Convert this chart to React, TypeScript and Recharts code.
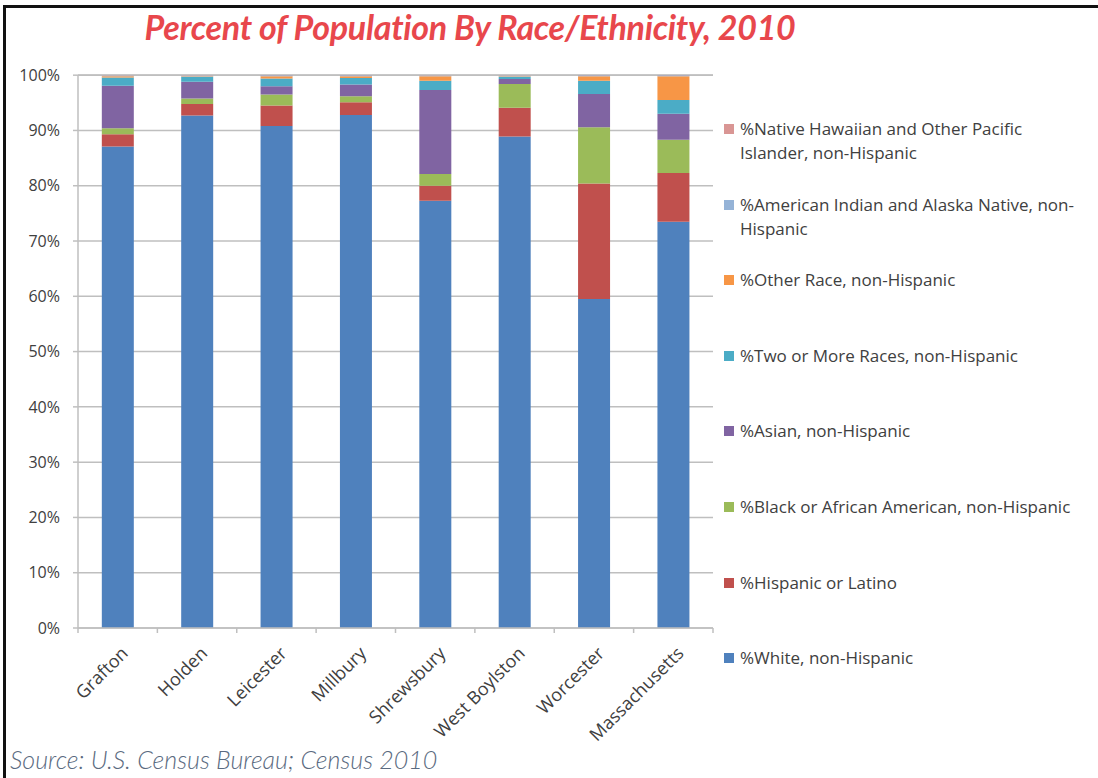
import React from "react";
import { BarChart, Bar, XAxis, YAxis, CartesianGrid } from "recharts";

const towns = [
  "Grafton",
  "Holden",
  "Leicester",
  "Millbury",
  "Shrewsbury",
  "West Boylston",
  "Worcester",
  "Massachusetts",
];

// percent of population, bottom of stack first
const white = [87.1, 92.7, 90.8, 92.8, 77.3, 88.9, 59.5, 73.5];
const hispanic = [2.2, 2.1, 3.7, 2.3, 2.7, 5.2, 20.9, 8.8];
const black = [1.1, 1.0, 2.0, 1.1, 2.1, 4.3, 10.2, 6.0];
const asian = [7.7, 3.0, 1.5, 2.1, 15.2, 0.9, 6.0, 4.7];
const twoOrMore = [1.5, 0.9, 1.4, 1.2, 1.7, 0.4, 2.4, 2.5];
const otherRace = [0.2, 0.1, 0.4, 0.3, 0.8, 0.1, 0.8, 4.3];
const amIndian = [0.1, 0.1, 0.2, 0.2, 0.1, 0.1, 0.2, 0.2];
const hawaiian = [0.05, 0.02, 0.03, 0.02, 0.03, 0.05, 0.03, 0.03];

const yTicks = [0, 10, 20, 30, 40, 50, 60, 70, 80, 90, 100];

const SERIES = [
  { key: "white", name: "%White, non-Hispanic", color: "#4f81bd", values: white },
  { key: "hispanic", name: "%Hispanic or Latino", color: "#c0504d", values: hispanic },
  { key: "black", name: "%Black or African American, non-Hispanic", color: "#9bbb59", values: black },
  { key: "asian", name: "%Asian, non-Hispanic", color: "#8064a2", values: asian },
  { key: "two", name: "%Two or More Races, non-Hispanic", color: "#4bacc6", values: twoOrMore },
  { key: "other", name: "%Other Race, non-Hispanic", color: "#f79646", values: otherRace },
  { key: "amind", name: "%American Indian and Alaska Native, non-Hispanic", color: "#95b3d7", values: amIndian },
  { key: "nhpi", name: "%Native Hawaiian and Other Pacific Islander, non-Hispanic", color: "#d99694", values: hawaiian },
];

const data = towns.map((town, i) => {
  const row: Record<string, any> = { town };
  SERIES.forEach((s) => (row[s.key] = s.values[i]));
  return row;
});

const PLOT_LEFT = 78;
const PLOT_RIGHT = 713;
const BAND = (PLOT_RIGHT - PLOT_LEFT) / towns.length;
const AXIS_GRAY = "#bfbfbf";

const TownTick = (props: any) => {
  const { x, y, payload, index } = props;
  const y0 = y - 8;
  return (
    <g>
      <line x1={x - BAND / 2} y1={y0} x2={x - BAND / 2} y2={y0 + 5} stroke={AXIS_GRAY} strokeWidth={1.5} />
      {index === towns.length - 1 && (
        <line x1={x + BAND / 2} y1={y0} x2={x + BAND / 2} y2={y0 + 5} stroke={AXIS_GRAY} strokeWidth={1.5} />
      )}
      <text
        x={x + 7}
        y={y + 14}
        transform={`rotate(-45, ${x + 7}, ${y + 14})`}
        textAnchor="end"
        dy="0.35em"
        fill="#404040"
        fontSize={18}
        fontFamily="'Open Sans', sans-serif"
      >
        {payload.value}
      </text>
    </g>
  );
};

export default function App() {
  const legendItems = [...SERIES].reverse();
  return (
    <div
      style={{
        position: "absolute",
        left: 0,
        top: 0,
        width: 1098,
        height: 778,
        background: "#fff",
        overflow: "hidden",
        fontFamily: "'Open Sans', sans-serif",
      }}
    >
      <div style={{ position: "absolute", left: 3, top: 5, width: 1095, height: 773, borderLeft: "3px solid #111", borderTop: "3px solid #111" }} />
      <div
        style={{
          position: "absolute",
          left: 0,
          width: 940,
          top: 6,
          textAlign: "center",
          color: "#e8474c",
          fontFamily: "Lato, sans-serif",
          fontStyle: "italic",
          fontWeight: 700,
          fontSize: 34,
          letterSpacing: -0.3,
        }}
      >
        Percent of Population By Race/Ethnicity, 2010
      </div>
      <BarChart
        width={1098}
        height={778}
        data={data}
        margin={{ top: 75, right: 1098 - PLOT_RIGHT, bottom: 50, left: 8 }}
        barCategoryGap="30%"
        style={{ position: "absolute", left: 0, top: 0 }}
      >
        <CartesianGrid vertical={false} stroke={AXIS_GRAY} strokeWidth={1.5} />
        <XAxis
          dataKey="town"
          height={100}
          tickLine={false}
          axisLine={{ stroke: AXIS_GRAY, strokeWidth: 1.5 }}
          interval={0}
          tick={<TownTick />}
        />
        <YAxis
          width={70}
          domain={[0, 100]}
          ticks={yTicks}
          tickFormatter={(v) => `${v}%`}
          axisLine={{ stroke: AXIS_GRAY, strokeWidth: 1.5 }}
          tickLine={{ stroke: AXIS_GRAY, strokeWidth: 1.5 }}
          tickSize={5}
          tickMargin={13}
          tick={{ fill: "#404040", fontSize: 16, fontFamily: "'Open Sans', sans-serif" }}
        />
        {SERIES.map((s) => (
          <Bar key={s.key} dataKey={s.key} name={s.name} stackId="pop" fill={s.color} isAnimationActive={false} />
        ))}
      </BarChart>
      <div style={{ position: "absolute", left: 724, top: 117, width: 370 }}>
        {legendItems.map((s) => (
          <div key={s.key} style={{ height: 75.6, display: "flex", alignItems: "flex-start" }}>
            <div style={{ width: 10, height: 10, background: s.color, marginTop: 7, marginRight: 6, flexShrink: 0 }} />
            <div style={{ fontSize: 17, lineHeight: "24px", color: "#404040", width: 352 }}>{s.name}</div>
          </div>
        ))}
      </div>
      <div
        style={{
          position: "absolute",
          left: 10,
          top: 744,
          color: "#5a6a80",
          fontFamily: "Lato, sans-serif",
          fontStyle: "italic",
          fontWeight: 300,
          fontSize: 25,
        }}
      >
        Source: U.S. Census Bureau; Census 2010
      </div>
    </div>
  );
}
